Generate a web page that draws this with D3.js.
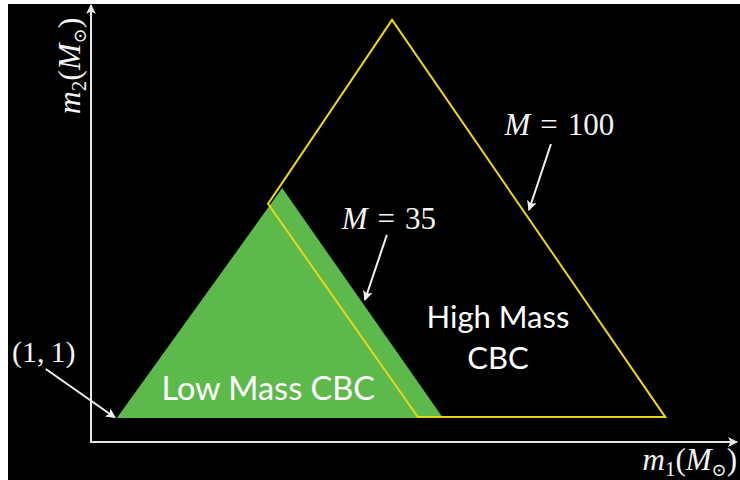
<!DOCTYPE html>
<html>
<head>
<meta charset="utf-8">
<script src="https://cdn.jsdelivr.net/npm/d3@7"></script>
<style>
  html, body { margin: 0; padding: 0; background: #fff; }
  #graph { width: 740px; height: 480px; }
</style>
</head>
<body>
<div id="graph"></div>
<script>
    var width = 740,
        height = 480,
        padLeft = 8,   // white strip on the left
        padTop = 4;    // white strip on top

    // regions, in axis units (x: m1, y: m2, both 0..100 on the drawn axes)
    var lowMassRegion = [[4.0, 5.5], [29.6, 58.1], [54.5, 5.5]];
    var highMassBoundary = [[27.4, 54.5], [46.6, 96.6], [88.9, 5.7], [50.6, 5.7]];

    // annotation arrows: [from, to]
    var arrowNames = ["corner", "m35", "m100"];
    var arrowFrom = [[-7.0, 16.7], [45.8, 47.4], [71.2, 68.2]];
    var arrowTo = [[3.7, 5.6], [42.4, 32.5], [67.8, 53.1]];

    // labels
    var regionLabels = ["Low Mass CBC", "High Mass", "CBC"];
    var regionLabelPos = [[10.9, 9.6], [63.0, 26.1], [63.0, 16.7]];
    var regionLabelSize = [32.5, 31, 31];
    var massLabels = ["35", "100"];
    var massLabelPos = [[38.8, 48.7], [64.0, 70.3]];

    var svg = d3.select("#graph").append("svg")
        .attr("width", width)
        .attr("height", height);

    var x = d3.scaleLinear().domain([0, 100]).range([91, 737]),
        y = d3.scaleLinear().domain([0, 100]).range([442, 5]);

    var defs = svg.append("defs");
    function marker(id, color, w, h) {
        defs.append("marker")
            .attr("id", id)
            .attr("viewBox", "0 0 10 10")
            .attr("refX", 9)
            .attr("refY", 5)
            .attr("markerUnits", "userSpaceOnUse")
            .attr("markerWidth", w)
            .attr("markerHeight", h)
            .attr("orient", "auto")
            .append("path")
            .attr("d", "M0,0 L10,5 L0,10 L2.5,5 Z")
            .style("fill", color);
    }
    marker("axhead", "#e6e6e6", 11, 10);
    marker("head", "#f2f2f2", 11, 10);

    svg.append("rect")
        .attr("x", padLeft).attr("y", padTop)
        .attr("width", width - padLeft).attr("height", height - padTop)
        .style("fill", "#000");

    var line = d3.line()
        .x(function (d) { return x(d[0]); })
        .y(function (d) { return y(d[1]); });

    // low mass region (green), then the high mass boundary on top
    svg.append("path")
        .datum(lowMassRegion)
        .attr("d", line.curve(d3.curveLinearClosed))
        .style("fill", "#5db94b");

    svg.append("path")
        .datum(highMassBoundary)
        .attr("d", line.curve(d3.curveLinearClosed))
        .style("fill", "none")
        .style("stroke", "#e8d51c")
        .style("stroke-width", 2)
        .style("stroke-linejoin", "miter");

    // axes
    svg.append("line")
        .attr("x1", x(0)).attr("y1", y(0))
        .attr("x2", x(0)).attr("y2", y(100))
        .style("stroke", "#e6e6e6").style("stroke-width", 2)
        .attr("marker-end", "url(#axhead)");
    svg.append("line")
        .attr("x1", x(0) - 1).attr("y1", y(0))
        .attr("x2", x(100)).attr("y2", y(0))
        .style("stroke", "#e6e6e6").style("stroke-width", 2)
        .attr("marker-end", "url(#axhead)");

    // annotation arrows
    svg.selectAll("line.arrow")
        .data(arrowNames)
        .enter().append("line")
        .attr("class", "arrow")
        .attr("x1", function (d, i) { return x(arrowFrom[i][0]); })
        .attr("y1", function (d, i) { return y(arrowFrom[i][1]); })
        .attr("x2", function (d, i) { return x(arrowTo[i][0]); })
        .attr("y2", function (d, i) { return y(arrowTo[i][1]); })
        .style("stroke", "#f2f2f2")
        .style("stroke-width", 2)
        .attr("marker-end", "url(#head)");

    // region labels
    svg.selectAll("text.region")
        .data(regionLabels)
        .enter().append("text")
        .attr("class", "region")
        .attr("x", function (d, i) { return x(regionLabelPos[i][0]); })
        .attr("y", function (d, i) { return y(regionLabelPos[i][1]); })
        .attr("text-anchor", function (d, i) { return i == 0 ? "start" : "middle"; })
        .style("font-family", "Lato, 'Open Sans', sans-serif")
        .style("font-size", function (d, i) { return regionLabelSize[i] + "px"; })
        .style("fill", "#fff")
        .text(function (d) { return d; });

    var math = "'Liberation Serif', 'DejaVu Serif', serif";

    // M = 35, M = 100
    var ml = svg.selectAll("text.mass")
        .data(massLabels)
        .enter().append("text")
        .attr("class", "mass")
        .attr("x", function (d, i) { return x(massLabelPos[i][0]); })
        .attr("y", function (d, i) { return y(massLabelPos[i][1]); })
        .style("font-family", math)
        .style("font-size", "31px")
        .style("fill", "#f4f4f4");
    ml.append("tspan").style("font-style", "italic").text("M");
    ml.append("tspan").attr("dx", 10).text("=");
    ml.append("tspan").attr("dx", 10).text(function (d) { return d; });

    // (1,1)
    svg.append("text")
        .attr("x", 12).attr("y", 362)
        .style("font-family", math)
        .style("font-size", "30px")
        .style("fill", "#f4f4f4")
        .text("(1,\u20091)");

    // axis titles
    function massTitle(sel, sub) {
        sel.append("tspan").style("font-style", "italic").text("m");
        sel.append("tspan").attr("dy", 6).style("font-size", "21px").text(sub);
        sel.append("tspan").attr("dy", -6).text("(");
        sel.append("tspan").style("font-style", "italic").text("M");
        sel.append("tspan").attr("dy", 6).style("font-size", "18px").text("\u2299");
        sel.append("tspan").attr("dy", -6).text(")");
    }

    var xt = svg.append("text")
        .attr("x", 737).attr("y", 470)
        .attr("text-anchor", "end")
        .style("font-family", math)
        .style("font-size", "31px")
        .style("fill", "#f4f4f4");
    massTitle(xt, "1");

    var yt = svg.append("text")
        .attr("transform", "translate(80,66) rotate(-90)")
        .attr("text-anchor", "middle")
        .style("font-family", math)
        .style("font-size", "32px")
        .style("fill", "#f4f4f4");
    massTitle(yt, "2");
</script>
</body>
</html>
